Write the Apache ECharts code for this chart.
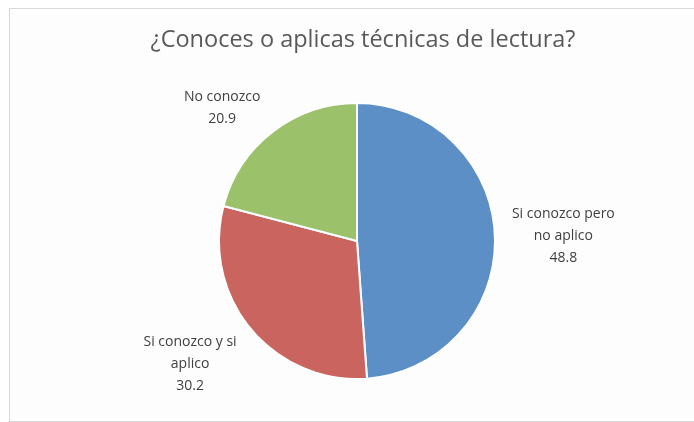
<!DOCTYPE html>
<html>
<head>
<meta charset="utf-8">
<script src="https://cdn.jsdelivr.net/npm/echarts@6/dist/echarts.min.js"></script>
<style>
  html, body { margin: 0; padding: 0; background: #fff; }
  .frame {
    position: absolute; left: 9px; top: 8px; width: 700px; height: 412px;
    border: 1px solid #d9d9d9; background: #fdfdfd;
  }
  #chart { position: absolute; left: 0; top: 0; width: 694px; height: 422px; }
</style>
</head>
<body>
<div class="frame"></div>
<div id="chart"></div>
<script>
// respuestas de la encuesta (porcentaje)
const categories = ['Si conozco pero\nno aplico', 'Si conozco y si\naplico', 'No conozco']
const values = [48.8, 30.2, 20.9]
const colors = ['#5B8FC6', '#C9645F', '#9CC16B']

// desplazamiento vertical de cada etiqueta (estilo "mejor ajuste" de Excel)
const labelShift = [0, 27, -14]

const chart = echarts.init(document.getElementById('chart'))
chart.setOption({
  title: {
    text: '¿Conoces o aplicas técnicas de lectura?',
    left: 358,
    textAlign: 'center',
    top: 23,
    textStyle: { fontFamily: 'Open Sans', fontSize: 23.5, fontWeight: 'normal', color: '#595959' }
  },
  series: [{
    type: 'pie',
    center: [357, 241],
    radius: 138,
    startAngle: 90,
    clockwise: true,
    animation: false,
    data: categories.map((name, i) => ({
      name,
      value: values[i],
      itemStyle: { color: colors[i] }
    })),
    itemStyle: { borderColor: '#fff', borderWidth: 2 },
    label: {
      position: 'outside',
      formatter: '{b}\n{c}',
      fontFamily: 'Open Sans',
      fontSize: 14,
      lineHeight: 22,
      color: '#404040'
    },
    labelLine: { show: false, length: 12, length2: 0 },
    labelLayout (params) {
      const r = params.labelRect
      return {
        x: r.x + r.width / 2,
        y: r.y + r.height / 2 + labelShift[params.dataIndex],
        align: 'center',
        verticalAlign: 'middle'
      }
    }
  }]
})
</script>
</body>
</html>
